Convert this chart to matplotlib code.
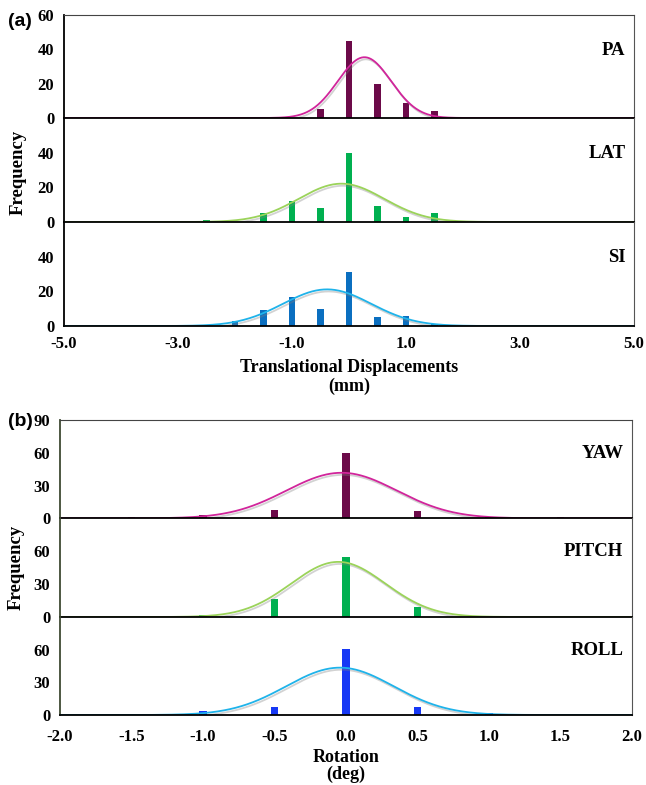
import numpy as np
import matplotlib
matplotlib.use("Agg")
import matplotlib.pyplot as plt
import matplotlib.patheffects as pe

# translational displacement histograms (mm), bin width 0.5
trans_bins = [-2.5, -2.0, -1.5, -1.0, -0.5, 0.0, 0.5, 1.0, 1.5]
pa_counts = [0, 0, 0, 0, 5, 45, 20, 9, 4]
lat_counts = [1, 0, 5, 12, 8, 40, 9, 3, 5]
si_counts = [0, 3, 9, 17, 10, 31, 5, 6, 1]
trans_names = ["PA", "LAT", "SI"]
trans_ticks = [-5.0, -3.0, -1.0, 1.0, 3.0, 5.0]

# rotation histograms (deg), bin width 0.5
rot_bins = [-1.5, -1.0, -0.5, 0.0, 0.5, 1.0, 1.5]
yaw_counts = [1, 3, 8, 60, 7, 1, 1]
pitch_counts = [0, 2, 16, 55, 9, 1, 0]
roll_counts = [1, 4, 7, 61, 7, 2, 0]
rot_names = ["YAW", "PITCH", "ROLL"]
rot_ticks = [-2.0, -1.5, -1.0, -0.5, 0.0, 0.5, 1.0, 1.5, 2.0]

bin_w = 0.5

bar_cols = ["#6c0a49", "#00b050", "#0b6fc0"]
curve_cols = ["#d1259b", "#9bd35a", "#1fb3ea"]
rot_bar_cols = ["#6c0a49", "#00b050", "#1638f5"]
rot_curve_cols = ["#d1259b", "#9bd35a", "#1fb3ea"]

W, H = 646, 785
fig = plt.figure(figsize=(W / 100, H / 100), dpi=100)

serif = "Liberation Serif"
sans = "Liberation Sans"


def px_axes(left, right, top, bottom):
    return fig.add_axes([left / W, 1 - bottom / H, (right - left) / W, (bottom - top) / H])


def normal_fit(bins, counts, xs):
    b = np.array(bins)
    c = np.array(counts, dtype=float)
    n = c.sum()
    mu = (b * c).sum() / n
    sd = np.sqrt((c * (b - mu) ** 2).sum() / n)
    return n * bin_w / (sd * np.sqrt(2 * np.pi)) * np.exp(-(xs - mu) ** 2 / (2 * sd ** 2))


def panel(ax, bins, counts, bcol, ccol, name, xlim, ylim, yticks, barw, top, ticks, xpad):
    xs = np.linspace(xlim[0], xlim[1], 600)
    ax.bar(bins, counts, width=barw, color=bcol, zorder=3)
    ax.plot(xs, normal_fit(bins, counts, xs), color=ccol, lw=1.3, zorder=4,
            path_effects=[pe.SimpleLineShadow(offset=(1, -1.5), shadow_color="gray", alpha=0.35),
                          pe.Normal()])
    ax.set_xlim(*xlim)
    ax.set_ylim(*ylim)
    yt = yticks if top else yticks[:-1]
    ax.set_yticks(yt)
    ax.set_yticklabels([str(v) for v in yt], fontfamily=serif, fontweight="bold", fontsize=12)
    ax.set_xticks(ticks)
    ax.tick_params(axis="y", length=0, pad=7)
    ax.tick_params(axis="x", length=0, pad=xpad)
    ax.text(0.985, 0.66, name, transform=ax.transAxes, ha="right", va="center",
            fontfamily=serif, fontweight="bold", fontsize=13.5)
    ax.spines["left"].set_color("black")
    ax.spines["left"].set_linewidth(1.3)
    ax.spines["bottom"].set_color("black")
    ax.spines["bottom"].set_linewidth(1.3)
    ax.spines["bottom"].set_zorder(5)
    ax.spines["right"].set_color("#555555")
    ax.spines["top"].set_color("#444444")
    ax.spines["top"].set_visible(top)
    ax.patch.set_alpha(0)


# panel (a)
a_bottoms = [118, 222, 326]
a_tops = [15, 118, 222]
a_counts = [pa_counts, lat_counts, si_counts]
for i in range(3):
    ax = px_axes(64, 634, a_tops[i], a_bottoms[i])
    panel(ax, trans_bins, a_counts[i], bar_cols[i], curve_cols[i], trans_names[i],
          (-5, 5), (0, 60), [0, 20, 40, 60], 0.12, i == 0, trans_ticks, 7)
    if i < 2:
        ax.set_xticklabels([])
    else:
        ax.set_xticklabels(["%.1f" % t for t in trans_ticks], fontfamily=serif,
                           fontweight="bold", fontsize=12)

fig.text(349 / W, 1 - 367 / H, "Translational Displacements", fontfamily=serif,
         fontweight="bold", fontsize=13, ha="center", va="center")
fig.text(349 / W, 1 - 386 / H, "(mm)", fontfamily=serif, fontweight="bold",
         fontsize=13, ha="center", va="center")

fig.text(8 / W, 1 - 22 / H, "(a)", fontfamily=sans, fontweight="bold", fontsize=14,
         ha="left", va="center")
fig.text(18 / W, 1 - 172 / H, "Frequency", rotation=90, fontfamily=serif,
         fontweight="bold", fontsize=13.5, ha="center", va="center")

# panel (b)
b_tops = [420, 518.3, 617]
b_bottoms = [518.3, 617, 715]
b_counts = [yaw_counts, pitch_counts, roll_counts]
for i in range(3):
    ax = px_axes(60, 632, b_tops[i], b_bottoms[i])
    panel(ax, rot_bins, b_counts[i], rot_bar_cols[i], rot_curve_cols[i], rot_names[i],
          (-2, 2), (0, 90), [0, 30, 60, 90], 0.05, i == 0, rot_ticks, 10)
    ax.spines["left"].set_color("#3f4a33")
    if i < 2:
        ax.set_xticklabels([])
    else:
        ax.set_xticklabels(["%.1f" % t for t in rot_ticks], fontfamily=serif,
                           fontweight="bold", fontsize=12)

fig.text(346 / W, 1 - 757 / H, "Rotation", fontfamily=serif, fontweight="bold",
         fontsize=13, ha="center", va="center")
fig.text(346 / W, 1 - 774 / H, "(deg)", fontfamily=serif, fontweight="bold",
         fontsize=13, ha="center", va="center")

fig.text(8 / W, 1 - 422 / H, "(b)", fontfamily=sans, fontweight="bold", fontsize=14,
         ha="left", va="center")
fig.text(16 / W, 1 - 567 / H, "Frequency", rotation=90, fontfamily=serif,
         fontweight="bold", fontsize=13.5, ha="center", va="center")

fig.savefig("out.png", dpi=100)
